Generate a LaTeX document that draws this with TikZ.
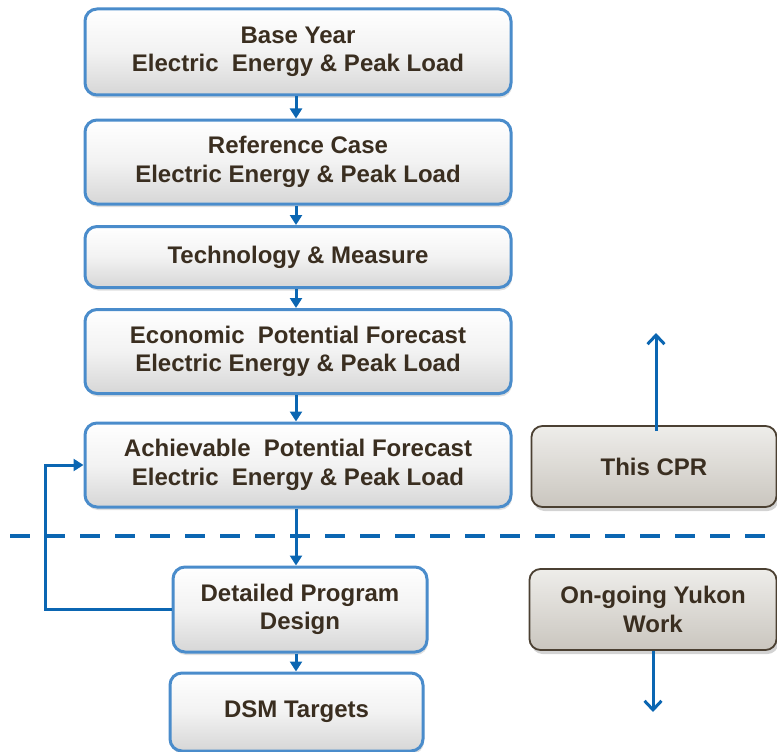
\documentclass[tikz,border=0pt]{standalone}
\usepackage{fontspec}
\setmainfont{Liberation Sans}
\usetikzlibrary{arrows.meta,shadows}

\definecolor{flowblue}{HTML}{0B66B2}
\definecolor{boxedge}{HTML}{4A8CCB}
\definecolor{inktext}{HTML}{3A2E20}
\definecolor{greyedge}{HTML}{4B4032}
\definecolor{greytop}{HTML}{EEEDEA}
\definecolor{greybot}{HTML}{CAC6BF}

\tikzset{
  stepbox/.style={draw=boxedge, line width=3pt, rounded corners=12pt,
    top color=white, bottom color=black!16, middle color=black!5,
    drop shadow={shadow xshift=1pt, shadow yshift=-3pt, opacity=0.25},
    align=center, font=\fontsize{24}{28.5}\selectfont\bfseries,
    text=inktext, inner sep=0pt},
  notebox/.style={draw=greyedge, line width=1.8pt, rounded corners=11pt,
    top color=greytop, bottom color=greybot,
    drop shadow={shadow xshift=2pt, shadow yshift=-4pt, opacity=0.35},
    align=center, font=\fontsize{24}{28.5}\selectfont\bfseries,
    text=inktext, inner sep=0pt},
  flow/.style={draw=flowblue, line width=3pt,
    -{Triangle[length=10pt, width=12pt]}},
  openflow/.style={draw=flowblue, line width=3pt,
    -{Straight Barb[length=9pt, width=17pt, line width=3pt]}},
}

\begin{document}
\begin{tikzpicture}[x=1pt, y=-1pt]
\useasboundingbox (0,0) rectangle (777,752);

% main chain
\node[stepbox, minimum width=426pt, minimum height=86pt] (base) at (298,52)
  {Base Year\\Electric\ \ Energy \& Peak Load};
\node[stepbox, minimum width=426pt, minimum height=84pt] (ref) at (298,162)
  {Reference Case\\Electric Energy \& Peak Load};
\node[stepbox, minimum width=426pt, minimum height=61pt] (tech) at (298,257)
  {Technology \& Measure};
\node[stepbox, minimum width=426pt, minimum height=84pt] (econ) at (298,351.5)
  {Economic\ \ Potential Forecast\\Electric Energy \& Peak Load};
\node[stepbox, minimum width=426pt, minimum height=84pt] (ach) at (298,465)
  {Achievable\ \ Potential Forecast\\Electric\ \ Energy \& Peak Load};
\node[stepbox, minimum width=254pt, minimum height=85pt] (dpd) at (300,609.5)
  {Detailed Program\\Design};
\node[stepbox, minimum width=253pt, minimum height=78pt] (dsm) at (296.5,712)
  {DSM Targets};

% side notes
\node[notebox, minimum width=245pt, minimum height=81pt] (cpr) at (654,466.5)
  {This CPR};
\node[notebox, minimum width=247pt, minimum height=81pt] (yukon) at (653,609.5)
  {On-going Yukon\\Work};

% dividing line
\coordinate (dashL) at (10,536);
\coordinate (dashR) at (777,536);
\draw[flowblue, line width=4pt, dash pattern=on 20pt off 15pt] (dashL) -- (dashR);

% chain connectors
\coordinate (spine) at (296,0);
\draw[flow] (base.south -| spine) -- (ref.north -| spine);
\draw[flow] (ref.south -| spine) -- (tech.north -| spine);
\draw[flow] (tech.south -| spine) -- (econ.north -| spine);
\draw[flow] (econ.south -| spine) -- (ach.north -| spine);
\draw[flow] (ach.south -| spine) -- (dpd.north -| spine);
\draw[flow] (dpd.south -| spine) -- (dsm.north -| spine);

% feedback loop
\coordinate (loopx) at (45,0);
\draw[flow] (dpd.west) -- (dpd.west -| loopx) |- (ach.west);

% outgoing arrows
\coordinate (upend) at (656,333);
\coordinate (downend) at (653,712);
\draw[openflow] ([yshift=-6pt]cpr.north -| upend) -- (upend);
\draw[openflow] (yukon.south -| downend) -- (downend);
\end{tikzpicture}
\end{document}
